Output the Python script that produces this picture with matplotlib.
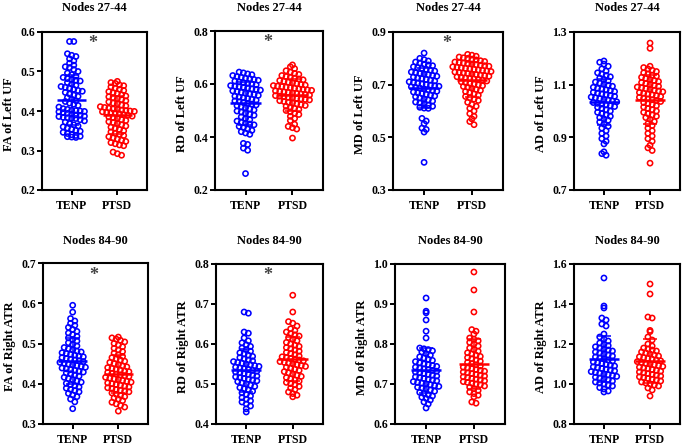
import matplotlib.pyplot as plt
import numpy as np

plt.rcParams['font.family'] = ['Liberation Serif', 'DejaVu Serif']
plt.rcParams['font.weight'] = 'bold'

groups = ['TENP', 'PTSD']
colors = ['#0000ff', '#ff0000']

titles = ['Nodes 27-44'] * 4 + ['Nodes 84-90'] * 4
ylabels = ['FA of Left UF', 'RD of Left UF', 'MD of Left UF', 'AD of Left UF',
           'FA of Right ATR', 'RD of Right ATR', 'MD of Right ATR', 'AD of Right ATR']
ylims = [(0.2, 0.6), (0.2, 0.8), (0.3, 0.9), (0.7, 1.3),
         (0.3, 0.7), (0.4, 0.8), (0.6, 1.0), (0.8, 1.6)]
yticks = [[0.2, 0.3, 0.4, 0.5, 0.6], [0.2, 0.4, 0.6, 0.8], [0.3, 0.5, 0.7, 0.9], [0.7, 0.9, 1.1, 1.3],
          [0.3, 0.4, 0.5, 0.6, 0.7], [0.4, 0.5, 0.6, 0.7, 0.8], [0.6, 0.7, 0.8, 0.9, 1.0],
          [0.8, 1.0, 1.2, 1.4, 1.6]]
significant = [True, True, True, False, True, True, False, False]

# values (one list per group)
fa_l_tenp = [0.576, 0.576, 0.545, 0.541, 0.538, 0.532, 0.527, 0.521, 0.516, 0.512, 0.510, 0.505, 0.500,
             0.496, 0.492, 0.488, 0.485, 0.482, 0.480, 0.478, 0.476, 0.472, 0.468, 0.465, 0.462, 0.460,
             0.458, 0.455, 0.452, 0.450, 0.447, 0.443, 0.440, 0.437, 0.434, 0.430, 0.426, 0.424, 0.420,
             0.417, 0.414, 0.410, 0.406, 0.404, 0.402, 0.401, 0.400, 0.399, 0.398, 0.396, 0.394, 0.392,
             0.390, 0.389, 0.387, 0.386, 0.384, 0.383, 0.382, 0.381, 0.378, 0.375, 0.372, 0.368, 0.365,
             0.362, 0.360, 0.357, 0.354, 0.351, 0.349, 0.346, 0.343, 0.340, 0.338, 0.336, 0.335, 0.334,
             0.333]
fa_l_ptsd = [0.475, 0.472, 0.470, 0.466, 0.464, 0.461, 0.458, 0.455, 0.452, 0.449, 0.446, 0.444, 0.441,
             0.438, 0.436, 0.434, 0.431, 0.429, 0.426, 0.423, 0.420, 0.418, 0.415, 0.413, 0.411, 0.409,
             0.407, 0.405, 0.404, 0.402, 0.401, 0.400, 0.399, 0.398, 0.397, 0.396, 0.395, 0.393, 0.391,
             0.389, 0.387, 0.385, 0.383, 0.381, 0.378, 0.376, 0.373, 0.371, 0.368, 0.365, 0.362, 0.359,
             0.356, 0.353, 0.350, 0.347, 0.344, 0.341, 0.338, 0.335, 0.332, 0.329, 0.326, 0.323, 0.320,
             0.317, 0.314, 0.312, 0.296, 0.292, 0.288]
rd_l_tenp = [0.645, 0.642, 0.638, 0.635, 0.632, 0.628, 0.625, 0.622, 0.620, 0.617, 0.614, 0.611, 0.608,
             0.605, 0.602, 0.600, 0.597, 0.594, 0.592, 0.590, 0.588, 0.585, 0.582, 0.580, 0.577, 0.574,
             0.571, 0.568, 0.565, 0.562, 0.560, 0.557, 0.554, 0.551, 0.548, 0.545, 0.542, 0.539, 0.536,
             0.533, 0.530, 0.527, 0.524, 0.521, 0.518, 0.514, 0.510, 0.506, 0.502, 0.498, 0.494, 0.490,
             0.486, 0.482, 0.476, 0.470, 0.465, 0.460, 0.455, 0.452, 0.449, 0.446, 0.440, 0.436, 0.430,
             0.425, 0.420, 0.415, 0.410, 0.376, 0.372, 0.358, 0.350, 0.262]
rd_l_ptsd = [0.672, 0.665, 0.658, 0.650, 0.645, 0.640, 0.636, 0.632, 0.628, 0.625, 0.622, 0.619, 0.616,
             0.613, 0.610, 0.607, 0.604, 0.601, 0.598, 0.596, 0.594, 0.592, 0.590, 0.588, 0.586, 0.584,
             0.582, 0.580, 0.578, 0.576, 0.574, 0.572, 0.570, 0.568, 0.566, 0.564, 0.562, 0.560, 0.558,
             0.556, 0.554, 0.552, 0.550, 0.548, 0.546, 0.544, 0.542, 0.540, 0.537, 0.534, 0.531, 0.528,
             0.525, 0.522, 0.519, 0.516, 0.512, 0.508, 0.504, 0.500, 0.495, 0.490, 0.485, 0.478, 0.470,
             0.462, 0.448, 0.440, 0.435, 0.430, 0.396]
md_l_tenp = [0.820, 0.800, 0.795, 0.790, 0.786, 0.782, 0.778, 0.775, 0.772, 0.768, 0.765, 0.762, 0.758,
             0.755, 0.752, 0.748, 0.745, 0.742, 0.740, 0.738, 0.735, 0.732, 0.729, 0.726, 0.723, 0.720,
             0.717, 0.714, 0.711, 0.708, 0.705, 0.702, 0.700, 0.698, 0.696, 0.694, 0.692, 0.690, 0.687,
             0.684, 0.681, 0.678, 0.675, 0.672, 0.669, 0.666, 0.663, 0.660, 0.657, 0.654, 0.650, 0.646,
             0.642, 0.638, 0.634, 0.630, 0.626, 0.622, 0.618, 0.614, 0.611, 0.610, 0.572, 0.562, 0.552,
             0.535, 0.530, 0.520, 0.405]
md_l_ptsd = [0.815, 0.812, 0.808, 0.805, 0.802, 0.800, 0.797, 0.794, 0.791, 0.788, 0.786, 0.784, 0.782,
             0.780, 0.778, 0.776, 0.774, 0.772, 0.770, 0.768, 0.766, 0.764, 0.762, 0.760, 0.758, 0.756,
             0.754, 0.752, 0.750, 0.748, 0.746, 0.744, 0.742, 0.740, 0.738, 0.736, 0.734, 0.732, 0.730,
             0.728, 0.726, 0.724, 0.722, 0.720, 0.717, 0.714, 0.711, 0.708, 0.705, 0.702, 0.699, 0.696,
             0.693, 0.690, 0.686, 0.682, 0.678, 0.674, 0.670, 0.665, 0.660, 0.655, 0.650, 0.645, 0.640,
             0.633, 0.625, 0.618, 0.610, 0.600, 0.590, 0.580, 0.570, 0.560, 0.548]
ad_l_tenp = [1.190, 1.185, 1.178, 1.170, 1.160, 1.152, 1.145, 1.140, 1.135, 1.130, 1.125, 1.120, 1.115,
             1.110, 1.106, 1.102, 1.098, 1.094, 1.090, 1.086, 1.083, 1.080, 1.077, 1.074, 1.071, 1.068,
             1.065, 1.062, 1.059, 1.056, 1.053, 1.050, 1.047, 1.044, 1.041, 1.038, 1.035, 1.032, 1.029,
             1.026, 1.023, 1.020, 1.017, 1.014, 1.010, 1.005, 1.000, 0.995, 0.990, 0.985, 0.980, 0.975,
             0.970, 0.965, 0.958, 0.950, 0.942, 0.935, 0.925, 0.915, 0.905, 0.895, 0.885, 0.875, 0.845,
             0.838, 0.832]
ad_l_ptsd = [1.258, 1.238, 1.170, 1.165, 1.160, 1.155, 1.150, 1.145, 1.140, 1.136, 1.132, 1.128, 1.124,
             1.120, 1.116, 1.112, 1.108, 1.104, 1.100, 1.097, 1.094, 1.091, 1.088, 1.085, 1.082, 1.079,
             1.076, 1.073, 1.070, 1.067, 1.064, 1.061, 1.058, 1.055, 1.052, 1.049, 1.046, 1.043, 1.040,
             1.036, 1.032, 1.028, 1.024, 1.020, 1.015, 1.010, 1.005, 1.000, 0.995, 0.990, 0.985, 0.980,
             0.975, 0.968, 0.960, 0.952, 0.945, 0.935, 0.925, 0.915, 0.905, 0.895, 0.885, 0.870, 0.860,
             0.850, 0.802]
fa_r_tenp = [0.595, 0.578, 0.562, 0.556, 0.550, 0.545, 0.540, 0.535, 0.530, 0.526, 0.522, 0.518, 0.514,
             0.510, 0.506, 0.502, 0.498, 0.494, 0.490, 0.487, 0.484, 0.481, 0.479, 0.477, 0.475, 0.473,
             0.471, 0.469, 0.467, 0.465, 0.463, 0.461, 0.459, 0.457, 0.455, 0.453, 0.451, 0.449, 0.447,
             0.445, 0.443, 0.441, 0.439, 0.437, 0.435, 0.433, 0.431, 0.429, 0.427, 0.425, 0.422, 0.419,
             0.416, 0.413, 0.410, 0.407, 0.404, 0.401, 0.398, 0.395, 0.392, 0.389, 0.386, 0.383, 0.380,
             0.376, 0.372, 0.368, 0.362, 0.355, 0.338]
fa_r_ptsd = [0.516, 0.514, 0.511, 0.508, 0.504, 0.500, 0.496, 0.492, 0.488, 0.484, 0.480, 0.476, 0.472,
             0.468, 0.465, 0.462, 0.459, 0.456, 0.453, 0.450, 0.447, 0.444, 0.442, 0.440, 0.438, 0.436,
             0.434, 0.432, 0.430, 0.428, 0.426, 0.424, 0.422, 0.420, 0.418, 0.416, 0.414, 0.412, 0.410,
             0.408, 0.406, 0.404, 0.402, 0.400, 0.398, 0.396, 0.394, 0.392, 0.390, 0.388, 0.386, 0.384,
             0.382, 0.380, 0.377, 0.374, 0.371, 0.368, 0.365, 0.362, 0.358, 0.354, 0.350, 0.346, 0.342,
             0.332]
rd_r_tenp = [0.680, 0.677, 0.630, 0.627, 0.615, 0.608, 0.603, 0.598, 0.594, 0.590, 0.586, 0.582, 0.578,
             0.575, 0.572, 0.569, 0.566, 0.563, 0.560, 0.558, 0.556, 0.554, 0.552, 0.550, 0.548, 0.546,
             0.544, 0.542, 0.540, 0.538, 0.536, 0.534, 0.532, 0.530, 0.528, 0.526, 0.524, 0.522, 0.520,
             0.518, 0.516, 0.514, 0.512, 0.510, 0.508, 0.506, 0.503, 0.500, 0.497, 0.494, 0.491, 0.488,
             0.485, 0.482, 0.478, 0.474, 0.470, 0.466, 0.462, 0.458, 0.455, 0.450, 0.445, 0.438, 0.430]
rd_r_ptsd = [0.722, 0.680, 0.656, 0.652, 0.645, 0.638, 0.634, 0.630, 0.626, 0.623, 0.620, 0.616, 0.612,
             0.608, 0.604, 0.600, 0.597, 0.594, 0.591, 0.588, 0.585, 0.582, 0.579, 0.576, 0.573, 0.570,
             0.568, 0.566, 0.564, 0.562, 0.560, 0.558, 0.556, 0.554, 0.552, 0.550, 0.548, 0.546, 0.544,
             0.542, 0.540, 0.537, 0.534, 0.531, 0.528, 0.525, 0.522, 0.519, 0.516, 0.513, 0.510, 0.507,
             0.504, 0.501, 0.498, 0.494, 0.490, 0.486, 0.480, 0.476, 0.472, 0.468]
md_r_tenp = [0.915, 0.882, 0.878, 0.860, 0.832, 0.815, 0.790, 0.788, 0.786, 0.783, 0.780, 0.776, 0.772,
             0.768, 0.765, 0.762, 0.759, 0.756, 0.753, 0.750, 0.748, 0.746, 0.744, 0.742, 0.740, 0.738,
             0.736, 0.734, 0.732, 0.730, 0.728, 0.726, 0.724, 0.722, 0.720, 0.718, 0.716, 0.714, 0.712,
             0.710, 0.708, 0.706, 0.704, 0.702, 0.700, 0.698, 0.696, 0.694, 0.692, 0.690, 0.688, 0.685,
             0.682, 0.679, 0.676, 0.673, 0.670, 0.667, 0.664, 0.660, 0.655, 0.650, 0.640]
md_r_ptsd = [0.980, 0.935, 0.880, 0.836, 0.832, 0.825, 0.815, 0.812, 0.808, 0.804, 0.800, 0.795, 0.790,
             0.786, 0.782, 0.778, 0.775, 0.772, 0.769, 0.766, 0.763, 0.760, 0.757, 0.754, 0.751, 0.748,
             0.745, 0.742, 0.740, 0.738, 0.736, 0.734, 0.732, 0.730, 0.728, 0.726, 0.724, 0.722, 0.720,
             0.718, 0.716, 0.714, 0.712, 0.710, 0.708, 0.706, 0.704, 0.702, 0.700, 0.698, 0.695, 0.692,
             0.688, 0.684, 0.680, 0.676, 0.672, 0.668, 0.655, 0.652]
ad_r_tenp = [1.530, 1.390, 1.380, 1.330, 1.320, 1.300, 1.290, 1.250, 1.235, 1.225, 1.215, 1.205, 1.198,
             1.192, 1.186, 1.180, 1.175, 1.170, 1.165, 1.160, 1.155, 1.150, 1.145, 1.140, 1.135, 1.130,
             1.125, 1.120, 1.115, 1.110, 1.106, 1.102, 1.098, 1.094, 1.090, 1.086, 1.082, 1.078, 1.074,
             1.070, 1.066, 1.062, 1.058, 1.054, 1.050, 1.046, 1.042, 1.038, 1.034, 1.030, 1.025, 1.020,
             1.015, 1.010, 1.005, 1.000, 0.995, 0.990, 0.982, 0.975, 0.965, 0.960]
ad_r_ptsd = [1.500, 1.450, 1.335, 1.330, 1.268, 1.262, 1.235, 1.220, 1.200, 1.190, 1.180, 1.175, 1.170,
             1.165, 1.160, 1.155, 1.150, 1.145, 1.140, 1.136, 1.132, 1.128, 1.124, 1.120, 1.116, 1.112,
             1.108, 1.104, 1.100, 1.096, 1.092, 1.088, 1.084, 1.080, 1.076, 1.072, 1.068, 1.064, 1.060,
             1.056, 1.052, 1.048, 1.044, 1.040, 1.036, 1.032, 1.028, 1.024, 1.020, 1.015, 1.010, 1.005,
             1.000, 0.995, 0.990, 0.980, 0.970, 0.940]

data = [(fa_l_tenp, fa_l_ptsd), (rd_l_tenp, rd_l_ptsd), (md_l_tenp, md_l_ptsd), (ad_l_tenp, ad_l_ptsd),
        (fa_r_tenp, fa_r_ptsd), (rd_r_tenp, rd_r_ptsd), (md_r_tenp, md_r_ptsd), (ad_r_tenp, ad_r_ptsd)]

# axes boxes in pixels: left, top, right, bottom
W, H = 683, 445
boxes = [(42, 32, 147, 190), (215, 31, 323, 190), (393, 32, 503, 190), (574, 32, 680, 190),
         (43, 263, 148, 424), (216, 264, 323, 424), (395, 264, 505, 424), (574, 264, 680, 424)]
XMIN, XMAX = -0.65, 1.65
DOT_PX = 5.0


def swarm_offsets(vals, px_per_y, px_per_x):
    # Prism-like layout: bin values into rows, spread each row sideways
    vals = np.asarray(vals)
    row_h = 1.0 * DOT_PX / px_per_y
    dx = 0.85 * DOT_PX / px_per_x
    rows = np.round(vals / row_h).astype(int)
    offs = np.zeros(len(vals))
    for r in np.unique(rows):
        idx = np.where(rows == r)[0]
        n = len(idx)
        offs[idx] = (np.arange(n) - (n - 1) / 2) * dx
    return offs


fig = plt.figure(figsize=(W / 100, H / 100), dpi=100)

for i in range(8):
    l, t, r, b = boxes[i]
    ax = fig.add_axes([l / W, 1 - b / H, (r - l) / W, (b - t) / H])
    ymin, ymax = ylims[i]
    ax.set_xlim(XMIN, XMAX)
    ax.set_ylim(ymin, ymax)
    px_x = (r - l) / (XMAX - XMIN)
    px_y = (b - t) / (ymax - ymin)

    for g in range(2):
        vals = np.array(data[i][g])
        xs = g + swarm_offsets(vals, px_y, px_x)
        ax.scatter(xs, vals, s=14, facecolors='none', edgecolors=colors[g], linewidths=1.15, zorder=2)
        m = vals.mean()
        sd = vals.std(ddof=1)
        ax.hlines(m, g - 0.32, g + 0.32, color=colors[g], lw=1.8, zorder=3)
        ax.hlines([m - sd, m + sd], g - 0.15, g + 0.15, color=colors[g], lw=1.1, zorder=3)
        ax.vlines(g, m - sd, m + sd, color=colors[g], lw=1.1, zorder=3)

    if significant[i]:
        ax.text(0.47, ymax - 0.075 * (ymax - ymin), '*', ha='center', va='center',
                color='#444444', fontsize=13, fontweight='bold')

    ax.set_xticks([0, 1])
    ax.set_xticklabels(groups)
    ax.set_yticks(yticks[i])
    ax.set_yticklabels(['%.1f' % v for v in yticks[i]])
    ax.tick_params(axis='both', length=3.5, width=1.4, labelsize=8.5, pad=1.5)
    ax.tick_params(axis='x', pad=4)
    for sp in ax.spines.values():
        sp.set_linewidth(1.5)

    fig.text((l - 33) / W, 1 - ((t + b) / 2 + 3) / H, ylabels[i], rotation=90,
             ha='center', va='center', fontsize=9, fontweight='bold')

    ty = 8 if i < 4 else 241
    fig.text((l + r) / 2 / W, 1 - ty / H, titles[i], ha='center', va='center',
             fontsize=9, fontweight='bold')

fig.savefig('out.png', dpi=100)
